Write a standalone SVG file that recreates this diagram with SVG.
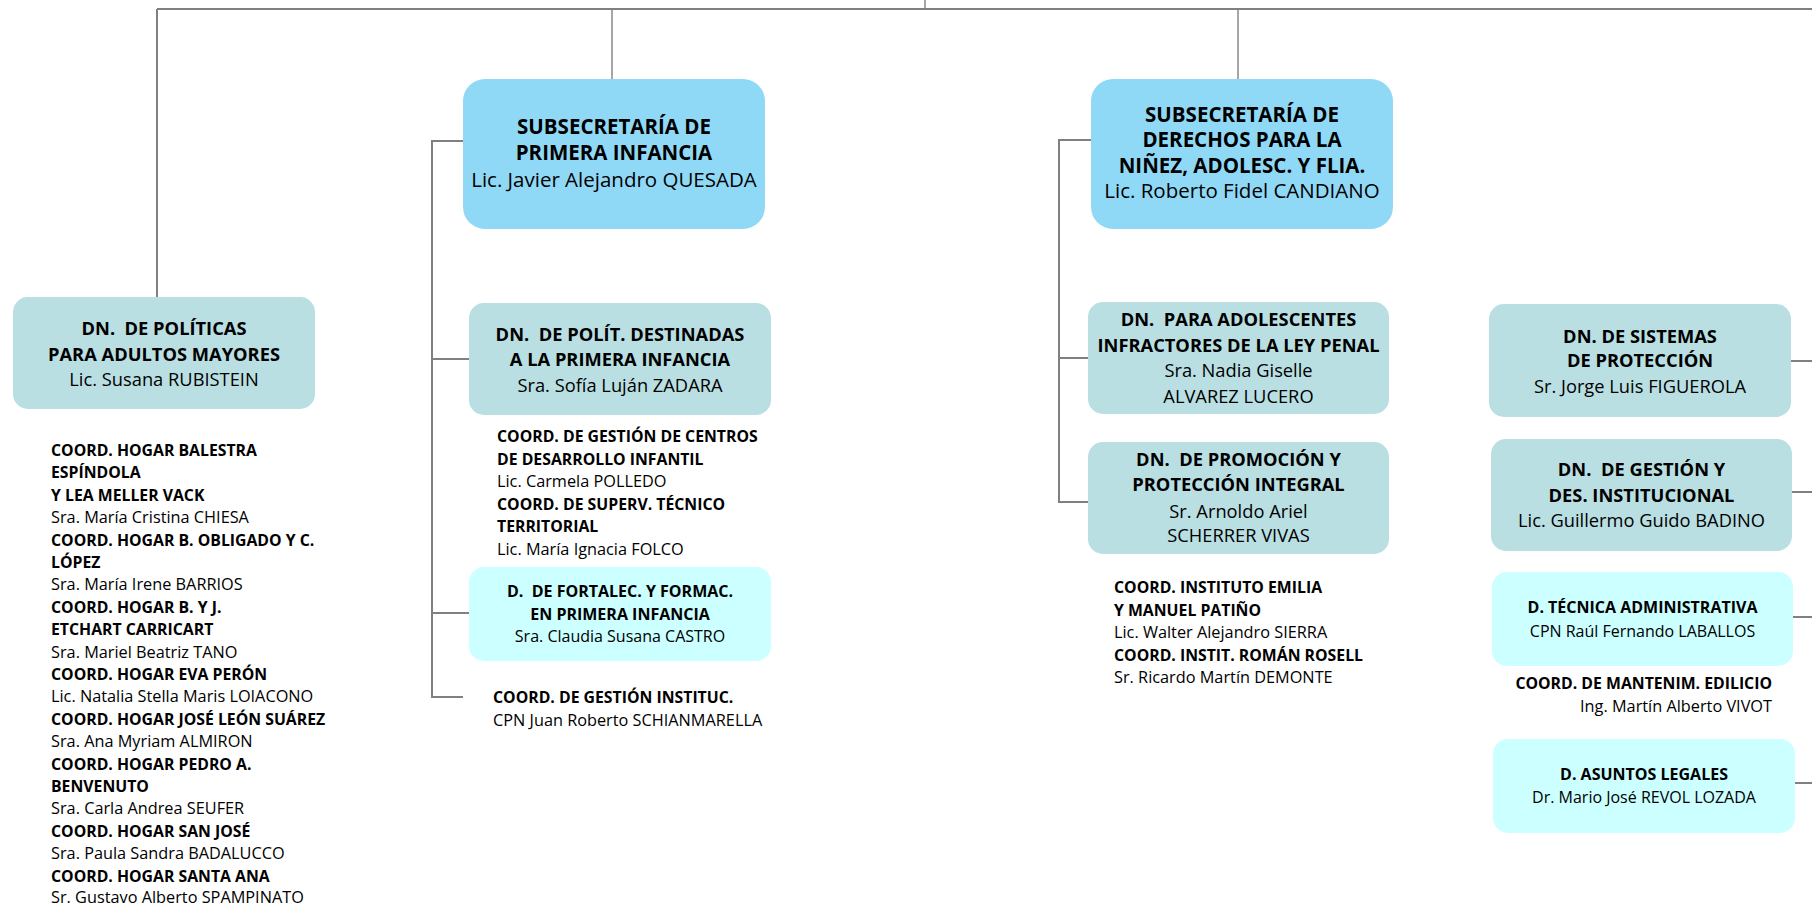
<svg xmlns="http://www.w3.org/2000/svg" width="1812" height="906" viewBox="0 0 1812 906">
<style>
text{font-family:"Open Sans","Noto Sans","Liberation Sans",sans-serif;fill:#000;white-space:pre}
.b{font-weight:bold}
.c{text-anchor:middle}
.sub{font-size:20.5px}
.dn{font-size:18.3px}
.d{font-size:16px}
.co text{font-size:16.3px}
.co text.b{font-size:15.8px}
.ln{stroke:#808080;stroke-width:2;fill:none}
.th{stroke-width:1.4}
.sb{fill:#90D9F6}
.dnb{fill:#B9DFE3}
.db{fill:#CCFFFF}
</style>
<rect width="1812" height="906" fill="#fff"/>
<g id="connectors">
<path class="ln th" d="M925,0V9"/>
<path class="ln" d="M157,9H1812"/>
<path class="ln" d="M157,9V297"/>
<path class="ln th" d="M612,9V79"/>
<path class="ln th" d="M1238,9V79"/>
<path class="ln" d="M463,141H432V697H463"/>
<path class="ln" d="M432,359H469"/>
<path class="ln" d="M432,613H469"/>
<path class="ln" d="M1091,140H1059V502H1088"/>
<path class="ln" d="M1059,358H1088"/>
<path class="ln" d="M1791,361H1812"/>
<path class="ln" d="M1792,492H1812"/>
<path class="ln" d="M1793,617H1812"/>
<path class="ln" d="M1795,783H1812"/>
</g>
<g id="dn-adultos">
<rect class="dnb" x="13" y="297" width="302" height="112" rx="15"/>
<text class="b c dn" x="164" y="335">DN.  DE POLÍTICAS</text>
<text class="b c dn" x="164" y="361">PARA ADULTOS MAYORES</text>
<text class="c dn" x="164" y="386">Lic. Susana RUBISTEIN</text>
</g>
<g id="coord-adultos" class="co">
<text class="b" x="51" y="456">COORD. HOGAR BALESTRA</text>
<text class="b" x="51" y="478.4">ESPÍNDOLA</text>
<text class="b" x="51" y="500.8">Y LEA MELLER VACK</text>
<text x="51" y="523.2">Sra. María Cristina CHIESA</text>
<text class="b" x="51" y="545.6">COORD. HOGAR B. OBLIGADO Y C.</text>
<text class="b" x="51" y="568">LÓPEZ</text>
<text x="51" y="590.4">Sra. María Irene BARRIOS</text>
<text class="b" x="51" y="612.8">COORD. HOGAR B. Y J.</text>
<text class="b" x="51" y="635.2">ETCHART CARRICART</text>
<text x="51" y="657.6">Sra. Mariel Beatriz TANO</text>
<text class="b" x="51" y="680">COORD. HOGAR EVA PERÓN</text>
<text x="51" y="702.4">Lic. Natalia Stella Maris LOIACONO</text>
<text class="b" x="51" y="724.8">COORD. HOGAR JOSÉ LEÓN SUÁREZ</text>
<text x="51" y="747.2">Sra. Ana Myriam ALMIRON</text>
<text class="b" x="51" y="769.6">COORD. HOGAR PEDRO A.</text>
<text class="b" x="51" y="792">BENVENUTO</text>
<text x="51" y="814.4">Sra. Carla Andrea SEUFER</text>
<text class="b" x="51" y="836.8">COORD. HOGAR SAN JOSÉ</text>
<text x="51" y="859.2">Sra. Paula Sandra BADALUCCO</text>
<text class="b" x="51" y="881.6">COORD. HOGAR SANTA ANA</text>
<text x="51" y="903">Sr. Gustavo Alberto SPAMPINATO</text>
</g>
<g id="sub-primera-infancia">
<rect class="sb" x="463" y="79" width="302" height="150" rx="22"/>
<text class="b c sub" x="614" y="134">SUBSECRETARÍA DE</text>
<text class="b c sub" x="614" y="160">PRIMERA INFANCIA</text>
<text class="c sub" x="614" y="187">Lic. Javier Alejandro QUESADA</text>
</g>
<g id="dn-primera-infancia">
<rect class="dnb" x="469" y="303" width="302" height="112" rx="15"/>
<text class="b c dn" x="620" y="341">DN.  DE POLÍT. DESTINADAS</text>
<text class="b c dn" x="620" y="366">A LA PRIMERA INFANCIA</text>
<text class="c dn" x="620" y="392">Sra. Sofía Luján ZADARA</text>
</g>
<g id="coord-primera-infancia" class="co">
<text class="b" x="497" y="442">COORD. DE GESTIÓN DE CENTROS</text>
<text class="b" x="497" y="464.5">DE DESARROLLO INFANTIL</text>
<text x="497" y="487">Lic. Carmela POLLEDO</text>
<text class="b" x="497" y="509.5">COORD. DE SUPERV. TÉCNICO</text>
<text class="b" x="497" y="532">TERRITORIAL</text>
<text x="497" y="554.5">Lic. María Ignacia FOLCO</text>
</g>
<g id="d-fortalec">
<rect class="db" x="469" y="567" width="302" height="94" rx="15"/>
<text class="b c d" x="620" y="597">D.  DE FORTALEC. Y FORMAC.</text>
<text class="b c d" x="620" y="620">EN PRIMERA INFANCIA</text>
<text class="c d" x="620" y="642">Sra. Claudia Susana CASTRO</text>
</g>
<g id="coord-gestion-instituc" class="co">
<text class="b" x="493" y="703">COORD. DE GESTIÓN INSTITUC.</text>
<text x="493" y="726">CPN Juan Roberto SCHIANMARELLA</text>
</g>
<g id="sub-derechos">
<rect class="sb" x="1091" y="79" width="302" height="150" rx="22"/>
<text class="b c sub" x="1242" y="122">SUBSECRETARÍA DE</text>
<text class="b c sub" x="1242" y="147">DERECHOS PARA LA</text>
<text class="b c sub" x="1242" y="173">NIÑEZ, ADOLESC. Y FLIA.</text>
<text class="c sub" x="1242" y="198">Lic. Roberto Fidel CANDIANO</text>
</g>
<g id="dn-adolescentes">
<rect class="dnb" x="1088" y="302" width="301" height="112" rx="15"/>
<text class="b c dn" x="1238.5" y="326">DN.  PARA ADOLESCENTES</text>
<text class="b c dn" x="1238.5" y="352">INFRACTORES DE LA LEY PENAL</text>
<text class="c dn" x="1238.5" y="377">Sra. Nadia Giselle</text>
<text class="c dn" x="1238.5" y="403">ALVAREZ LUCERO</text>
</g>
<g id="dn-promocion">
<rect class="dnb" x="1088" y="442" width="301" height="112" rx="15"/>
<text class="b c dn" x="1238.5" y="466">DN.  DE PROMOCIÓN Y</text>
<text class="b c dn" x="1238.5" y="491">PROTECCIÓN INTEGRAL</text>
<text class="c dn" x="1238.5" y="518">Sr. Arnoldo Ariel</text>
<text class="c dn" x="1238.5" y="542">SCHERRER VIVAS</text>
</g>
<g id="coord-derechos" class="co">
<text class="b" x="1114" y="593">COORD. INSTITUTO EMILIA</text>
<text class="b" x="1114" y="616">Y MANUEL PATIÑO</text>
<text x="1114" y="638">Lic. Walter Alejandro SIERRA</text>
<text class="b" x="1114" y="661">COORD. INSTIT. ROMÁN ROSELL</text>
<text x="1114" y="683">Sr. Ricardo Martín DEMONTE</text>
</g>
<g id="dn-sistemas">
<rect class="dnb" x="1489" y="304" width="302" height="113" rx="15"/>
<text class="b c dn" x="1640" y="343">DN. DE SISTEMAS</text>
<text class="b c dn" x="1640" y="367">DE PROTECCIÓN</text>
<text class="c dn" x="1640" y="393">Sr. Jorge Luis FIGUEROLA</text>
</g>
<g id="dn-gestion">
<rect class="dnb" x="1491" y="439" width="301" height="112" rx="15"/>
<text class="b c dn" x="1641.5" y="476">DN.  DE GESTIÓN Y</text>
<text class="b c dn" x="1641.5" y="502">DES. INSTITUCIONAL</text>
<text class="c dn" x="1641.5" y="527">Lic. Guillermo Guido BADINO</text>
</g>
<g id="d-tecnica">
<rect class="db" x="1492" y="572" width="301" height="94" rx="15"/>
<text class="b c d" x="1642.5" y="613">D. TÉCNICA ADMINISTRATIVA</text>
<text class="c d" x="1642.5" y="637">CPN Raúl Fernando LABALLOS</text>
</g>
<g id="coord-mantenim" class="co" style="text-anchor:end">
<text class="b" x="1772" y="689">COORD. DE MANTENIM. EDILICIO</text>
<text x="1772" y="712">Ing. Martín Alberto VIVOT</text>
</g>
<g id="d-asuntos-legales">
<rect class="db" x="1493" y="739" width="302" height="94" rx="15"/>
<text class="b c d" x="1644" y="780">D. ASUNTOS LEGALES</text>
<text class="c d" x="1644" y="803">Dr. Mario José REVOL LOZADA</text>
</g>
</svg>
